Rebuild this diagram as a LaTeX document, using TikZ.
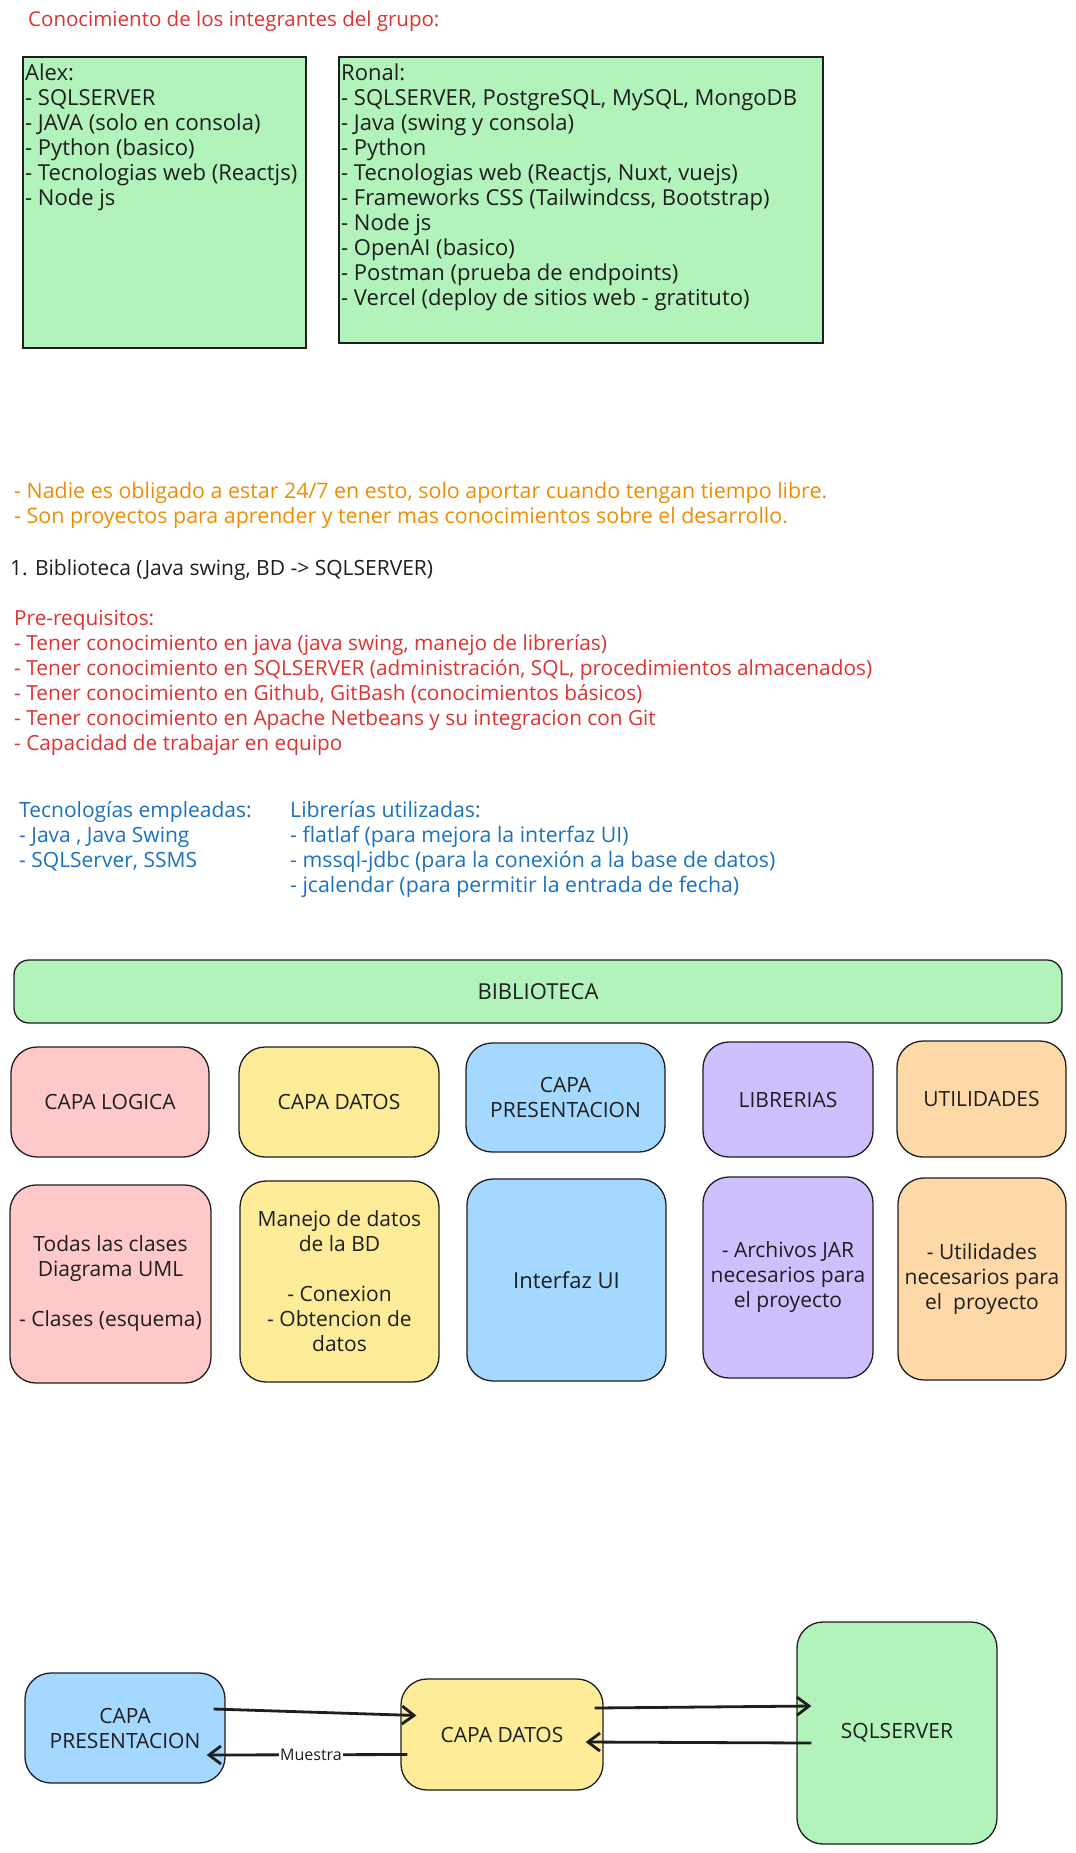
\documentclass[tikz,border=0pt]{standalone}
\usepackage{fontspec}
\setmainfont{Open Sans}
\usetikzlibrary{arrows.meta}

\definecolor{ink}{HTML}{1E1E1E}
\definecolor{mint}{HTML}{B2F2BB}
\definecolor{rosa}{HTML}{FFC9C9}
\definecolor{amarillo}{HTML}{FFEC99}
\definecolor{celeste}{HTML}{A5D8FF}
\definecolor{lila}{HTML}{D0BFFF}
\definecolor{durazno}{HTML}{FFD8A8}
\definecolor{rojotxt}{HTML}{E03131}
\definecolor{naranjatxt}{HTML}{F08C00}
\definecolor{azultxt}{HTML}{1971C2}

\newcommand{\hand}{\fontsize{21}{25}\selectfont}
\newcommand{\handbig}{\fontsize{22}{25}\selectfont}
\newcommand{\handsm}{\fontsize{16}{18}\selectfont}

\begin{document}
\begin{tikzpicture}[x=1pt, y=-1pt, font=\hand, text=ink,
	membox/.style={draw=ink, line width=1.6pt, fill=mint},
	memtxt/.style={anchor=north west, align=left, font=\handbig, inner xsep=3pt, inner ysep=8pt},
	layer/.style={draw=ink, line width=1.3pt, rounded corners=26pt, align=center},
	flow/.style={-{Straight Barb[length=12pt,width=18pt]}, draw=ink, line width=2.8pt}]
	\useasboundingbox (0,0) rectangle (1076,1853);

	\node at (28,21) [anchor=west, inner sep=0pt, text=rojotxt, font=\fontsize{20.5}{25}\selectfont] (titulo) {Conocimiento de los integrantes del grupo:};

	\node at (22,56) [membox, anchor=north west, minimum width=283pt, minimum height=291pt] (alex) {};
	\node at (alex.north west) [memtxt] (alextxt) {Alex:\\- SQLSERVER\\- JAVA (solo en consola)\\- Python (basico)\\- Tecnologias web (Reactjs)\\- Node js};

	\node at (338,56) [membox, anchor=north west, minimum width=484pt, minimum height=286pt] (ronal) {};
	\node at (ronal.north west) [memtxt] (ronaltxt) {Ronal:\\- SQLSERVER, PostgreSQL, MySQL, MongoDB\\- Java (swing y consola)\\- Python\\- Tecnologias web (Reactjs, Nuxt, vuejs)\\- Frameworks CSS (Tailwindcss, Bootstrap)\\- Node js\\- OpenAI (basico)\\- Postman (prueba de endpoints)\\- Vercel (deploy de sitios web - gratituto)};

	\node at (14,505.5) [anchor=west, align=left, inner sep=0pt, text=naranjatxt, font=\fontsize{21.4}{25}\selectfont] (aviso) {- Nadie es obligado a estar 24/7 en esto, solo aportar cuando tengan tiempo libre.\\- Son proyectos para aprender y tener mas conocimientos sobre el desarrollo.};
	\node at (10,570) [anchor=west, inner sep=0pt] (proyecto) {1. Biblioteca (Java swing, BD -> SQLSERVER)};
	\node at (14,682.5) [anchor=west, align=left, inner sep=0pt, text=rojotxt, font=\fontsize{20.8}{25}\selectfont] (prereq) {Pre-requisitos:\\- Tener conocimiento en java (java swing, manejo de librerías)\\- Tener conocimiento en SQLSERVER (administración, SQL, procedimientos almacenados)\\- Tener conocimiento en Github, GitBash (conocimientos básicos)\\- Tener conocimiento en Apache Netbeans y su integracion con Git\\- Capacidad de trabajar en equipo};

	\node at (19,836) [anchor=west, align=left, inner sep=0pt, text=azultxt] (tecno) {Tecnologías empleadas:\\- Java , Java Swing\\- SQLServer, SSMS};
	\node at (290,849) [anchor=west, align=left, inner sep=0pt, text=azultxt, font=\fontsize{21.3}{25}\selectfont] (libs) {Librerías utilizadas:\\- flatlaf (para mejora la interfaz UI)\\- mssql-jdbc (para la conexión a la base de datos)\\- jcalendar (para permitir la entrada de fecha)};

	% arquitectura
	\node at (538,991.5) [layer, rounded corners=15pt, fill=mint, minimum width=1048pt, minimum height=63pt, font=\handbig] (biblio) {BIBLIOTECA};

	\node at (110,1102) [layer, fill=rosa, minimum width=198pt, minimum height=110pt] (logica) {CAPA LOGICA};
	\node at (339,1102) [layer, fill=amarillo, minimum width=200pt, minimum height=110pt] (datos) {CAPA DATOS};
	\node at (565.5,1097.5) [layer, fill=celeste, minimum width=199pt, minimum height=109pt] (presen) {CAPA\\PRESENTACION};
	\node at (788,1099.5) [layer, fill=lila, minimum width=170pt, minimum height=115pt] (librerias) {LIBRERIAS};
	\node at (981.5,1099) [layer, fill=durazno, minimum width=169pt, minimum height=116pt] (utilidades) {UTILIDADES};

	\node at (110.5,1284) [layer, fill=rosa, minimum width=201pt, minimum height=198pt] (clases) {Todas las clases\\Diagrama UML\\[25pt]- Clases (esquema)};
	\node at (339.5,1281.5) [layer, fill=amarillo, minimum width=199pt, minimum height=201pt] (manejo) {Manejo de datos\\de la BD\\[25pt]- Conexion\\- Obtencion de\\datos};
	\node at (566.5,1280) [layer, fill=celeste, minimum width=199pt, minimum height=202pt, font=\handbig] (interfaz) {Interfaz UI};
	\node at (788,1277.5) [layer, fill=lila, minimum width=170pt, minimum height=201pt] (jar) {- Archivos JAR\\necesarios para\\el proyecto};
	\node at (982,1279) [layer, fill=durazno, minimum width=168pt, minimum height=202pt] (utilnec) {- Utilidades\\necesarios para\\el\ \ proyecto};

	% flujo
	\node at (125,1728) [layer, fill=celeste, minimum width=200pt, minimum height=110pt] (pres2) {CAPA\\PRESENTACION};
	\node at (502,1734.5) [layer, fill=amarillo, minimum width=202pt, minimum height=111pt] (datos2) {CAPA DATOS};
	\node at (897,1733) [layer, fill=mint, minimum width=200pt, minimum height=222pt] (sql) {SQLSERVER};

	\draw [flow] ([xshift=-12pt, yshift=19pt]pres2.east) -- ([xshift=16pt, yshift=19pt]datos2.west);
	\draw [flow] ([xshift=7pt, yshift=-20pt]datos2.west) -- ([xshift=-19pt, yshift=-27pt]pres2.east) node[pos=0.48, fill=white, inner sep=1pt, font=\handsm] (muestra) {Muestra};
	\draw [flow] ([xshift=-9pt, yshift=26.5pt]datos2.east) -- ([xshift=15pt, yshift=27pt]sql.west);
	\draw [flow] ([xshift=15pt, yshift=-10pt]sql.west) -- ([xshift=-18pt, yshift=-7.5pt]datos2.east);

\end{tikzpicture}
\end{document}
